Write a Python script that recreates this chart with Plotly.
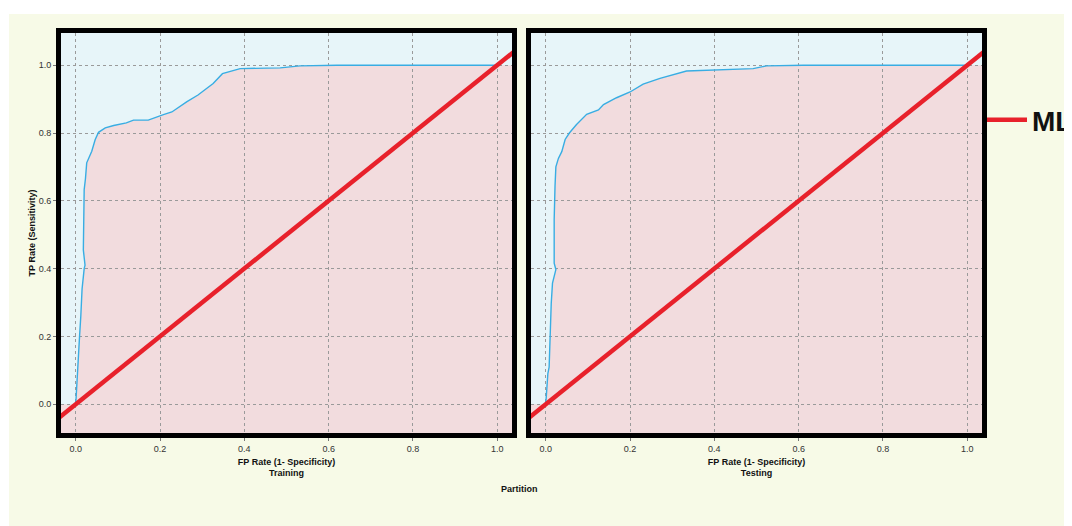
import plotly.graph_objects as go

# ---------------- data ----------------
partitions = ["Training", "Testing"]
series_name = "MLP"

train_fpr = [0.000, 0.004, 0.009, 0.012, 0.015, 0.020, 0.022, 0.018, 0.019, 0.020, 0.023, 0.026,
             0.038, 0.046, 0.054, 0.070, 0.090, 0.120, 0.137, 0.172, 0.208, 0.228, 0.263, 0.290,
             0.326, 0.348, 0.390, 0.485, 0.532, 0.620, 1.000]
train_tpr = [0.000, 0.110, 0.200, 0.260, 0.340, 0.400, 0.410, 0.455, 0.550, 0.633, 0.665, 0.712,
             0.746, 0.780, 0.802, 0.815, 0.822, 0.830, 0.838, 0.838, 0.854, 0.862, 0.892, 0.912,
             0.946, 0.975, 0.990, 0.992, 0.998, 1.000, 1.000]

test_fpr = [0.000, 0.005, 0.008, 0.010, 0.013, 0.016, 0.024, 0.020, 0.020, 0.022, 0.024, 0.030,
            0.038, 0.046, 0.056, 0.073, 0.097, 0.125, 0.137, 0.168, 0.200, 0.231, 0.271, 0.334,
            0.398, 0.492, 0.524, 0.611, 1.000]
test_tpr = [0.000, 0.090, 0.109, 0.198, 0.297, 0.357, 0.397, 0.416, 0.545, 0.644, 0.700, 0.725,
            0.745, 0.781, 0.800, 0.825, 0.855, 0.868, 0.884, 0.904, 0.921, 0.944, 0.961, 0.983,
            0.986, 0.990, 0.998, 1.000, 1.000]

diag = [-0.05, 1.05]
tick_vals = [0.0, 0.2, 0.4, 0.6, 0.8, 1.0]
tick_text = ["0.0", "0.2", "0.4", "0.6", "0.8", "1.0"]

x_title = "FP Rate (1- Specificity)"
y_title = "TP Rate (Sensitivity)"
group_title = "Partition"

# ---------------- style ----------------
OFF = 8                      # page body margin of the html document
W, H = 1072 - OFF, 526 - OFF
ML, MT = 61 - OFF, 33 - OFF
PLOT_R, PLOT_B = 982 - OFF, 433 - OFF
MR, MB = W - PLOT_R, H - PLOT_B
PW = W - ML - MR
PH = H - MT - MB
X_RANGE = [-0.035, 1.035]
Y_RANGE = [-0.085, 1.095]
FONT = "Liberation Sans, Arial, sans-serif"
PANEL = "#F7FAE7"
BLUE_BG = "#E7F5F9"
PINK = "#F2DCDE"
CURVE = "#38ADE3"
RED = "#E8212B"
GRID = "#9A9A9A"


def px_x(p):  # viewport pixel -> paper x
    return (p - OFF - ML) / PW


def px_y(p):  # viewport pixel -> paper y
    return (H - MB - (p - OFF)) / PH


dom_left = [0.0, 451 / PW]
dom_right = [470 / PW, 1.0]

fig = go.Figure()

curves = [(train_fpr, train_tpr, "x", "y"), (test_fpr, test_tpr, "x2", "y2")]
shapes = [
    # white page strips outside the yellow panel
    dict(type="rect", xref="paper", yref="paper", layer="below",
         x0=-0.2, x1=1.3, y0=px_y(14), y1=1.5, fillcolor="white", line_width=0),
    dict(type="rect", xref="paper", yref="paper", layer="below",
         x0=-0.2, x1=px_x(9), y0=-0.5, y1=1.5, fillcolor="white", line_width=0),
]

for i, (fx, fy, xr, yr) in enumerate(curves):
    # area under the ROC curve (drawn below the grid, like the original)
    px = [X_RANGE[0]] + list(fx) + [X_RANGE[1], X_RANGE[1], X_RANGE[0]]
    py = [0.0] + list(fy) + [1.0, Y_RANGE[0], Y_RANGE[0]]
    path = "M " + " L ".join(f"{a},{b}" for a, b in zip(px, py)) + " Z"
    shapes.append(dict(type="path", xref=xr, yref=yr, layer="below", path=path,
                       fillcolor=PINK, line_width=0))
    fig.add_trace(go.Scatter(x=fx, y=fy, mode="lines", xaxis=xr, yaxis=yr,
                             line=dict(color=CURVE, width=1.4), showlegend=False,
                             hoverinfo="skip"))
    fig.add_trace(go.Scatter(x=diag, y=diag, mode="lines", xaxis=xr, yaxis=yr,
                             name=series_name, legendgroup=series_name,
                             line=dict(color=RED, width=4.5), showlegend=(i == 0)))

axis_common = dict(
    showline=True, linewidth=5, linecolor="black", mirror=True,
    showgrid=True, gridcolor=GRID, gridwidth=1, griddash="dot",
    zeroline=False, tickmode="array", tickvals=tick_vals, ticktext=tick_text,
    ticks="outside", ticklen=3, tickwidth=1, tickcolor="#777",
    tickfont=dict(family=FONT, size=9, color="#333"),
)
title_font = dict(family=FONT, size=9, color="#111", weight="bold")

fig.update_layout(
    width=W, height=H,
    margin=dict(l=ML, r=MR, t=MT, b=MB, autoexpand=False),
    paper_bgcolor=PANEL, plot_bgcolor=BLUE_BG,
    font=dict(family=FONT, size=9, color="#222"),
    xaxis=dict(domain=dom_left, range=X_RANGE, anchor="y",
               title=dict(text=f"{x_title}<br>{partitions[0]}", standoff=7, font=title_font),
               **axis_common),
    yaxis=dict(domain=[0, 1], range=Y_RANGE, anchor="x",
               title=dict(text=y_title, standoff=3, font=title_font),
               **axis_common),
    xaxis2=dict(domain=dom_right, range=X_RANGE, anchor="y2",
                title=dict(text=f"{x_title}<br>{partitions[1]}", standoff=7, font=title_font),
                **axis_common),
    yaxis2=dict(domain=[0, 1], range=Y_RANGE, anchor="x2", **{**axis_common,
                "showticklabels": False, "ticks": ""}),
    shapes=shapes,
    showlegend=True,
    legend=dict(x=px_x(982), xanchor="left", y=px_y(120), yanchor="middle",
                itemwidth=40, bgcolor="rgba(0,0,0,0)", borderwidth=0,
                font=dict(family=FONT, size=28, color="#111", weight="bold")),
    annotations=[dict(text=group_title, xref="paper", yref="paper",
                      x=px_x(519), y=px_y(489), xanchor="center", yanchor="middle",
                      showarrow=False, font=title_font)],
)

fig.write_html("out.html")
